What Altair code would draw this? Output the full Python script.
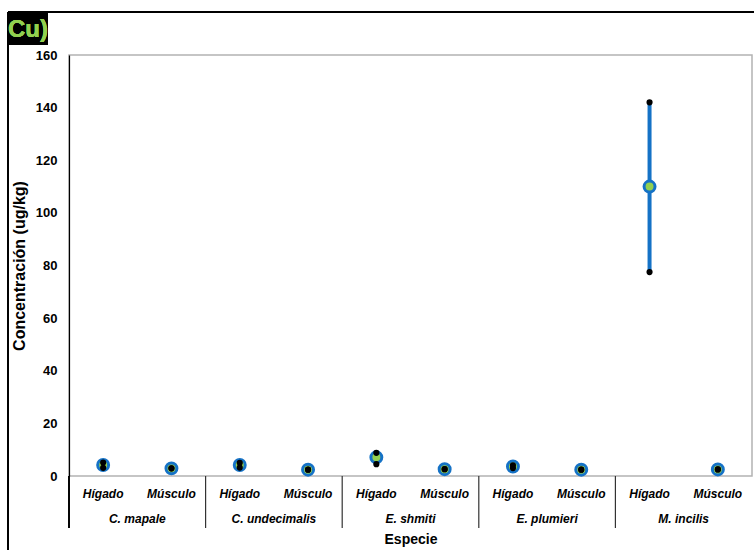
import altair as alt
import pandas as pd

# Cu concentration by species and tissue (mean with min/max range)
species = ["C. mapale", "C. undecimalis", "E. shmiti", "E. plumieri", "M. incilis"]
tissues = ["Hígado", "Músculo"]
mean_vals = [4.2, 2.9, 4.2, 2.4, 7.1, 2.6, 3.6, 2.4, 110.0, 2.5]
min_vals = [3.1, 2.9, 3.2, 2.4, 4.5, 2.6, 3.0, 2.4, 77.5, 2.5]
max_vals = [5.1, 2.9, 5.0, 2.4, 8.8, 2.6, 4.1, 2.4, 142.0, 2.5]
y_ticks = [0, 20, 40, 60, 80, 100, 120, 140, 160]

BLUE = "#1572c6"
GREEN = "#92d050"
FONT = "Liberation Sans"

rows = []
for i, sp in enumerate(species):
    for j, t in enumerate(tissues):
        k = 2 * i + j
        rows.append({"pos": k + 0.5, "especie": sp, "tejido": t,
                     "media": mean_vals[k], "min": min_vals[k], "max": max_vals[k]})
df = pd.DataFrame(rows)
ends = pd.concat([df[["pos", "min"]].rename(columns={"min": "v"}),
                  df[["pos", "max"]].rename(columns={"max": "v"})])
groups = pd.DataFrame({"pos": [2 * i + 1 for i in range(len(species))], "especie": species})
seps = pd.DataFrame({"b": [2, 4, 6, 8]})

W, H = 683, 421
xs = alt.Scale(domain=[0, 10], nice=False, zero=False)
ys = alt.Scale(domain=[0, 160], nice=False)

base = alt.Chart(df)

bars = base.mark_rule(color=BLUE, strokeWidth=4).encode(
    x=alt.X("pos:Q", scale=xs,
            axis=alt.Axis(labels=False, ticks=False, grid=False, domain=False,
                          title="Especie", titleFont=FONT, titleFontSize=14,
                          titleFontWeight="bold", titleColor="black", titlePadding=56)),
    y=alt.Y("min:Q", scale=ys,
            axis=alt.Axis(values=y_ticks, ticks=False, grid=False, domainColor="black",
                          domainWidth=1.2, labelFont=FONT, labelFontSize=13,
                          labelFontWeight="bold", labelColor="black", labelPadding=12,
                          title="Concentración  (ug/kg)", titleFont=FONT, titleFontSize=16,
                          titleFontWeight="bold", titleColor="black", titlePadding=8)),
    y2="max:Q",
)

means = base.mark_point(filled=True, fill=GREEN, stroke=BLUE, strokeWidth=3,
                        size=120, shape="circle", opacity=1).encode(
    x=alt.X("pos:Q", scale=xs), y=alt.Y("media:Q", scale=ys))

dots = alt.Chart(ends).mark_circle(color="black", size=38, opacity=1).encode(
    x=alt.X("pos:Q", scale=xs), y=alt.Y("v:Q", scale=ys))

tissue_lbl = base.mark_text(font=FONT, fontSize=12, fontWeight="bold", fontStyle="italic",
                            color="black", baseline="middle").encode(
    x=alt.X("pos:Q", scale=xs), y=alt.value(H + 18), text="tejido:N")

species_lbl = alt.Chart(groups).mark_text(font=FONT, fontSize=12, fontWeight="bold",
                                          fontStyle="italic", color="black",
                                          baseline="middle").encode(
    x=alt.X("pos:Q", scale=xs), y=alt.value(H + 43), text="especie:N")

sep_rules = alt.Chart(seps).mark_rule(color="#333333", strokeWidth=1.2).encode(
    x=alt.X("b:Q", scale=xs), y=alt.value(H), y2=alt.value(H + 52))

# extension of the value axis down through the category band
axis_ext = alt.Chart(seps).mark_rule(color="black", strokeWidth=1.2).encode(
    x=alt.value(0), y=alt.value(H), y2=alt.value(H + 52))

# panel frame and the "Cu)" tag
frame_top = alt.Chart(seps).mark_rule(color="black", strokeWidth=2).encode(
    x=alt.value(-61), x2=alt.value(W + 2), y=alt.value(-43))
frame_left = alt.Chart(seps).mark_rule(color="black", strokeWidth=1.5).encode(
    x=alt.value(-61), y=alt.value(-43), y2=alt.value(H + 80))
tag_box = alt.Chart(seps).mark_rect(color="black").encode(
    x=alt.value(-61), x2=alt.value(-21), y=alt.value(-43), y2=alt.value(-10))
tag_text = alt.Chart(seps).mark_text(text="Cu)", font=FONT, fontSize=24, fontWeight="bold",
                                     color=GREEN, align="center", baseline="middle").encode(
    x=alt.value(-41), y=alt.value(-25))

chart = alt.layer(
    bars, means, dots, tissue_lbl, species_lbl, sep_rules, axis_ext,
    frame_top, frame_left, tag_box, tag_text,
).properties(
    width=W, height=H,
    autosize=alt.AutoSizeParams(type="none"),
    padding={"left": 69, "top": 55, "right": 2, "bottom": 74},
    background="white",
).configure_view(stroke="#b3b3b3", strokeWidth=1.5)

chart.save("out.html", embed_options={"renderer": "svg", "actions": False})
